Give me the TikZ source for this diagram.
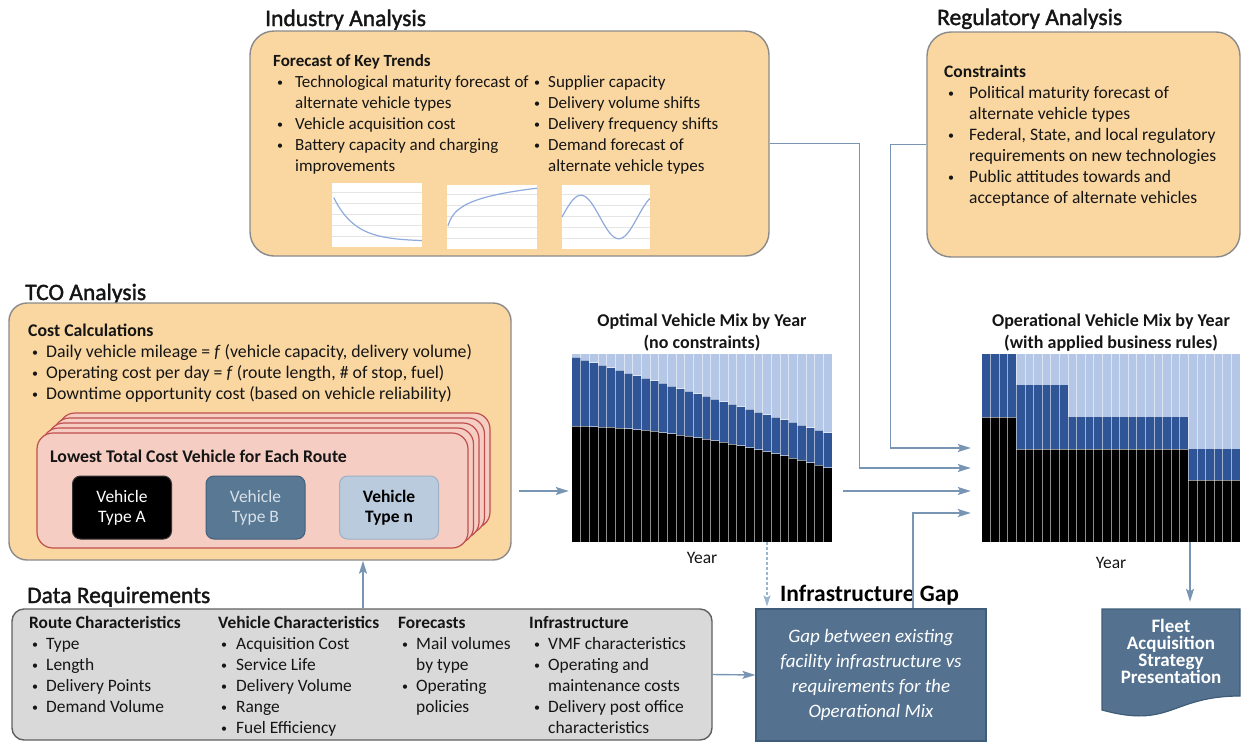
\documentclass[tikz,border=0pt]{standalone}
\usepackage{fontspec}
\setmainfont{Carlito}
\newfontfamily\headfont{Carlito}[FakeBold=1.6]
\usetikzlibrary{arrows.meta,calc}

\definecolor{orfill}{HTML}{FAD7A0}
\definecolor{orline}{HTML}{8A8A8A}
\definecolor{grfill}{HTML}{D9D9D9}
\definecolor{grline}{HTML}{606060}
\definecolor{pkfill}{HTML}{F5CDC3}
\definecolor{pkline}{HTML}{C0504D}
\definecolor{conncol}{HTML}{7896B4}
\definecolor{dashcol}{HTML}{9AB5D0}
\definecolor{steel}{HTML}{54728F}
\definecolor{steelline}{HTML}{3F5C78}
\definecolor{vB}{HTML}{587893}
\definecolor{vBline}{HTML}{41607D}
\definecolor{vBtext}{HTML}{D8E1EA}
\definecolor{vn}{HTML}{BACBDD}
\definecolor{vnline}{HTML}{9DB1C6}
\definecolor{barL}{HTML}{B4C7E7}
\definecolor{barD}{HTML}{2F5597}
\definecolor{txt}{HTML}{151515}
\definecolor{curve}{HTML}{8FAADC}
\definecolor{grid}{HTML}{E4E4E4}

\newcommand\topstrut{\rule{0pt}{14pt}}
\newcommand\bu[2]{\hspace*{#1}\makebox[#2][l]{\raisebox{1.2pt}{\fontsize{12}{12}\selectfont\textbullet}}}
\newcommand\hind[1]{\hspace*{#1}}
\newcommand\tightlines{\setlength\lineskiplimit{-8pt}}

\begin{document}
\begin{tikzpicture}[x=1pt,y=-1pt,
  body/.style={inner sep=0pt, anchor=north west, align=left, text=txt,
    font=\fontsize{17}{21}\selectfont},
  head/.style={inner sep=0pt, anchor=base west, text=txt,
    font=\headfont\fontsize{23.5}{28}\selectfont},
  obox/.style={draw=orline, fill=orfill, line width=1.4pt, inner sep=0pt},
  gbox/.style={draw=grline, fill=grfill, line width=1.4pt, inner sep=0pt, rounded corners=12pt},
  vbox/.style={inner sep=0pt, minimum width=99pt, minimum height=63pt, rounded corners=8pt,
    line width=1pt, align=center, font=\fontsize{17.5}{20}\selectfont},
  conn/.style={draw=conncol, line width=1.4pt, -{Stealth[length=13pt,width=8pt,inset=2.5pt]}},
  dconn/.style={draw=dashcol, line width=1.3pt, dash pattern=on 3pt off 2pt,
    -{Stealth[length=11pt,width=7pt,inset=2pt]}},
  ctitle/.style={inner sep=0pt, anchor=north, align=center, text=txt,
    font=\bfseries\fontsize{18}{22}\selectfont},
  sep/.style={draw=white, opacity=0.55, line width=0.8pt},
  mini/.style={fill=white, draw=none},
  gline/.style={draw=grid, line width=0.6pt},
  cline/.style={draw=curve, line width=1.2pt}
]
\useasboundingbox (0,0) rectangle (1243,742);

% ---------------- Industry Analysis ----------------
\node[head] (indT) at (265,26) {Industry Analysis};
\node[obox, rounded corners=24pt, minimum width=519pt, minimum height=225pt] (ind) at (509.5,143.5) {};
\node[body] (indL) at (273,52.3) {\topstrut\textbf{Forecast of Key Trends}\\
\bu{4pt}{18pt}Technological maturity forecast of\\
\hind{22pt}alternate vehicle types\\
\bu{4pt}{18pt}Vehicle acquisition cost\\
\bu{4pt}{18pt}Battery capacity and charging\\
\hind{22pt}improvements};
\node[body] (indR) at (530,73.3) {\topstrut\bu{4pt}{14pt}Supplier capacity\\
\bu{4pt}{14pt}Delivery volume shifts\\
\bu{4pt}{14pt}Delivery frequency shifts\\
\bu{4pt}{14pt}Demand forecast of\\
\hind{18pt}alternate vehicle types};

% mini charts
\begin{scope}[shift={(332,247)}, x=90pt, y=64pt]
  \fill[mini] (0,0) rectangle (1,1);
  \foreach \g in {0.17,0.34,0.51,0.68,0.85} \draw[gline] (0,\g) -- (1,\g);
  \draw[cline] plot[domain=0.02:1, samples=40, smooth] (\x, {0.09+0.74*exp(-4.2*\x)});
\end{scope}
\begin{scope}[shift={(447,249)}, x=90pt, y=64pt]
  \fill[mini] (0,0) rectangle (1,1);
  \foreach \g in {0.17,0.34,0.51,0.68,0.85} \draw[gline] (0,\g) -- (1,\g);
  \draw[cline] plot[domain=0.01:1, samples=50, smooth] (\x, {0.3+0.65*ln(1+40*\x)/ln(41)});
\end{scope}
\begin{scope}[shift={(562,249)}, x=88pt, y=64pt]
  \fill[mini] (0,0) rectangle (1,1);
  \foreach \g in {0.17,0.34,0.51,0.68,0.85} \draw[gline] (0,\g) -- (1,\g);
  \draw[cline] plot[domain=0:1, samples=60, smooth] (\x, {0.5+0.34*sin(360*\x/0.86)});
\end{scope}

% ---------------- Regulatory Analysis ----------------
\node[head] (regT) at (937,25) {Regulatory Analysis};
\node[obox, rounded corners=24pt, minimum width=313pt, minimum height=225pt] (reg) at (1083.5,144.5) {};
\node[body, font=\fontsize{17.5}{21}\selectfont] (regL) at (944,63.3) {\topstrut\textbf{Constraints}\\
\bu{4pt}{21pt}Political maturity forecast of\\
\hind{25pt}alternate vehicle types\\
\bu{4pt}{21pt}Federal, State, and local regulatory\\
\hind{25pt}requirements on new technologies\\
\bu{4pt}{21pt}Public attitudes towards and\\
\hind{25pt}acceptance of alternate vehicles};

% ---------------- TCO Analysis ----------------
\node[head] (tcoT) at (25,300) {TCO Analysis};
\node[obox, rounded corners=18pt, minimum width=502pt, minimum height=257pt] (tco) at (260,431.5) {};
\node[body, font=\fontsize{17.8}{21}\selectfont] (tcoL) at (28,322.3) {\topstrut\textbf{Cost Calculations}\\
\bu{4pt}{14pt}Daily vehicle mileage = \textit{f} (vehicle capacity, delivery volume)\\
\bu{4pt}{14pt}Operating cost per day = \textit{f} (route length, \# of stop, fuel)\\
\bu{4pt}{14pt}Downtime opportunity cost (based on vehicle reliability)};

\foreach \k in {4,3,2,1}{
  \draw[draw=pkline, fill=pkfill, line width=1.2pt, rounded corners=16pt]
    ({37+5.5*\k},{433-5*\k}) rectangle ({468+5.5*\k},{548-5*\k});
}
\node[draw=pkline, fill=pkfill, line width=1.2pt, rounded corners=16pt, inner sep=0pt,
  minimum width=431pt, minimum height=115pt] (lowest) at (252.5,490.5) {};
\node[inner sep=0pt, anchor=base west, text=txt, font=\bfseries\fontsize{17.8}{21}\selectfont]
  (lowT) at (50,462.5) {Lowest Total Cost Vehicle for Each Route};
\node[vbox, fill=black, draw=black!80, text=white] (vA) at (122,507.5) {Vehicle\\Type A};
\node[vbox, fill=vB, draw=vBline, text=vBtext] (vBn) at (255.5,507.5) {Vehicle\\Type B};
\node[vbox, fill=vn, draw=vnline, text=black, font=\bfseries\fontsize{17.5}{20}\selectfont] (vN) at (389,507.5) {Vehicle\\Type n};

% ---------------- Optimal chart ----------------
\node[ctitle] (optT) at (702,312.5) {\topstrut Optimal Vehicle Mix by Year\\(no constraints)};
\node[inner sep=0pt, minimum width=260pt, minimum height=188pt] (optc) at (702,448) {};
\foreach \i in {0,...,29}{
  \pgfmathsetmacro\xa{572+\i*260/30}
  \pgfmathsetmacro\xb{\xa+260/30}
  \pgfmathsetmacro\tt{(\i+0.5)/30}
  \pgfmathsetmacro\yb{356+78*\tt}
  \pgfmathsetmacro\yk{426+43*exp(1.8*ln(\tt))}
  \fill[barL] (\xa,354) rectangle (\xb,542);
  \fill[barD] (\xa,\yb) rectangle (\xb,542);
  \fill[black] (\xa,\yk) rectangle (\xb,542);
  \draw[sep] (\xa,\yb) -- (\xb,\yb);
  \draw[sep] (\xa,\yk) -- (\xb,\yk);
}
\foreach \i in {1,...,29} \draw[sep] ({572+\i*260/30},354) -- ++(0,188);
\node[inner sep=0pt, anchor=base, text=txt, font=\fontsize{17.5}{21}\selectfont] (optY) at (702,563) {Year};

% ---------------- Operational chart ----------------
\node[ctitle] (opT) at (1111,312.5) {\topstrut Operational Vehicle Mix by Year\\(with applied business rules)};
\node[inner sep=0pt, minimum width=258pt, minimum height=188pt] (opc) at (1111,448) {};
\foreach \a/\b/\yb/\yk in {0/4/354/417, 4/10/385/449, 10/24/417/449, 24/30/449/480}{
  \fill[barL] ({982+\a*8.6},354) rectangle ({982+\b*8.6},542);
  \fill[barD] ({982+\a*8.6},\yb) rectangle ({982+\b*8.6},542);
  \fill[black] ({982+\a*8.6},\yk) rectangle ({982+\b*8.6},542);
  \draw[sep] ({982+\a*8.6},\yk) -- ({982+\b*8.6},\yk);
}
\foreach \i in {1,...,29} \draw[sep] ({982+\i*8.6},354) -- ++(0,188);
\node[inner sep=0pt, anchor=base, text=txt, font=\fontsize{17.5}{21}\selectfont] (opY) at (1111,568) {Year};

% ---------------- Data Requirements ----------------
\node[head] (dataT) at (27,603) {Data Requirements};
\node[gbox, minimum width=700pt, minimum height=131pt] (data) at (362,674.5) {};
\node[body, font=\fontsize{17.4}{21}\selectfont] (d1) at (29,614.4) {\topstrut\textbf{Route Characteristics}\\
\bu{3pt}{14pt}Type\\
\bu{3pt}{14pt}Length\\
\bu{3pt}{14pt}Delivery Points\\
\bu{3pt}{14pt}Demand Volume};
\node[body, font=\fontsize{17.4}{21}\selectfont] (d2) at (218,614.4) {\topstrut\textbf{Vehicle Characteristics}\\
\bu{3pt}{15pt}Acquisition Cost\\
\bu{3pt}{15pt}Service Life\\
\bu{3pt}{15pt}Delivery Volume\\
\bu{3pt}{15pt}Range\\
\bu{3pt}{15pt}Fuel Efficiency};
\node[body, font=\fontsize{17.4}{21}\selectfont] (d3) at (398,614.4) {\topstrut\textbf{Forecasts}\\
\bu{4pt}{14pt}Mail volumes\\
\hind{18pt}by type\\
\bu{4pt}{14pt}Operating\\
\hind{18pt}policies};
\node[body, font=\fontsize{17.4}{21}\selectfont] (d4) at (529,614.4) {\topstrut\textbf{Infrastructure}\\
\bu{5pt}{14pt}VMF characteristics\\
\bu{5pt}{14pt}Operating and\\
\hind{19pt}maintenance costs\\
\bu{5pt}{14pt}Delivery post office\\
\hind{19pt}characteristics};

% ---------------- Infrastructure Gap ----------------
\node[inner sep=0pt, anchor=base west, text=black, font=\bfseries\fontsize{23.5}{28}\selectfont]
  (gapT) at (780,601) {Infrastructure Gap};
\node[draw=steelline, fill=steel, line width=1.2pt, inner sep=0pt, minimum width=230pt,
  minimum height=132pt, align=center, text=white,
  font=\itshape\fontsize{19}{25}\selectfont] (gap) at (871,675)
  {Gap between existing\\facility infrastructure vs\\requirements for the\\Operational Mix};

% ---------------- Fleet ----------------
\draw[draw=steelline, fill=steel, line width=1.2pt] (1102,609) -- (1240,609) -- (1240,696)
  .. controls (1171,696) and (1171,729) .. (1102,710) -- cycle;
\node[inner sep=0pt, minimum width=138pt, minimum height=84pt, align=center, text=white,
  font={\bfseries\fontsize{19}{17}\selectfont\tightlines}] (fleet) at (1171,651)
  {Fleet\\Acquisition\\Strategy\\Presentation};

% ---------------- Connectors ----------------
\coordinate (yA) at (0,491);
\coordinate (xDash) at (767,0);
\coordinate (xGap) at (913,0);
\coordinate (xData) at (363,0);
\coordinate (xFleet) at (1190,0);

\draw[conn, shorten >=11pt] (ind.east) -- ++(90,0) |- ([yshift=-20pt]opc.west);
\draw[conn, shorten >=11pt] (reg.west) -- ++(-36,0) |- (opc.west);
\draw[conn, shorten <=11pt, shorten >=11pt] (optc.east |- yA) -- (opc.west |- yA);
\draw[conn, shorten >=11pt] (gap.north -| xGap) |- ([yshift=-65pt]opc.west);
\draw[conn, shorten <=7pt, shorten >=3pt] (tco.east |- yA) -- (optc.west |- yA);
\draw[conn] (data.north -| xData) -- (tco.south -| xData);
\draw[conn] (data.east) -- (gap.west);
\draw[dconn, shorten >=2pt] (optc.south -| xDash) -- (gap.north -| xDash);
\draw[conn, shorten >=7pt] (opc.south -| xFleet) -- (fleet.north -| xFleet);
\end{tikzpicture}
\end{document}
